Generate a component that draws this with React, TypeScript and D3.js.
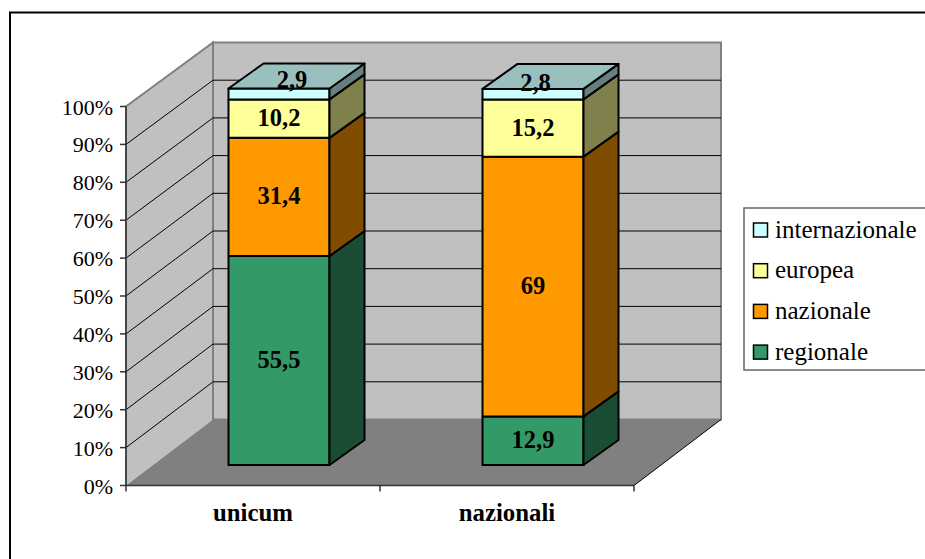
import React from "react";
import * as d3 from "d3";

// Percent shares per destination market, stacked from the bottom up
const categories = ["unicum", "nazionali"];
const seriesNames = ["regionale", "nazionale", "europea", "internazionale"];
const regionale = [55.5, 12.9];
const nazionale = [31.4, 69];
const europea = [10.2, 15.2];
const internazionale = [2.9, 2.8];
const valueLabels = [
  ["55,5", "12,9"],
  ["31,4", "69"],
  ["10,2", "15,2"],
  ["2,9", "2,8"],
];
const tickValues = [0, 10, 20, 30, 40, 50, 60, 70, 80, 90, 100];

const frontColors = ["#339966", "#FF9900", "#FFFF99", "#CCFFFF"];
const sideColors = ["#1A4D33", "#804D00", "#80804D", "#668080"];
const topColor = "#99BFBF";
const serif = "'Liberation Serif', 'Times New Roman', serif";

const rows = categories.map((c, i) => ({
  category: c,
  regionale: regionale[i],
  nazionale: nazionale[i],
  europea: europea[i],
  internazionale: internazionale[i],
}));

export default function App() {
  const left = 126;
  const right = 634;
  const wallDx = 87;
  const barDx = 35;
  const barDy = -25;
  const barOffset = 26;
  const barWidth = 101;

  const axisY = d3.scaleLinear().domain([0, 100]).range([485.5, 106.5]);
  const wallY = d3.scaleLinear().domain([0, 100]).range([419.5, 42.5]);
  const barY = d3.scaleLinear().domain([0, 100]).range([465, 88.5]);
  const x = d3.scaleBand().domain(categories).range([left, right]);

  const stacked = d3
    .stack<any>()
    .keys(seriesNames)
    .order(d3.stackOrderNone)
    .offset(d3.stackOffsetNone)(rows);

  const path = d3.line();

  // Small shifts for the labels of the thin top segment, which sit on the bar's lid
  const lidLabelShift = [
    { dx: 13, dy: -13.5 },
    { dx: 2.5, dy: -11 },
  ];

  return (
    <svg
      width={925}
      height={559}
      style={{ position: "absolute", left: 0, top: 0, background: "#fff" }}
      fontFamily={serif}
    >
      {/* outer chart frame */}
      <path d="M10 559V12.5H925" fill="none" stroke="#000" strokeWidth={2} />

      {/* side wall, back wall, floor */}
      <path
        d={path([[left, axisY(0)], [left, axisY(100)], [left + wallDx, wallY(100)], [left + wallDx, wallY(0)]])!}
        fill="#C0C0C0"
        stroke="#808080"
        strokeWidth={2}
      />
      <rect
        x={left + wallDx}
        y={wallY(100)}
        width={right - left}
        height={wallY(0) - wallY(100)}
        fill="#C0C0C0"
        stroke="#808080"
        strokeWidth={2}
      />
      <path
        d={path([[left, axisY(0)], [left + wallDx, wallY(0)], [right + wallDx, wallY(0)], [right, axisY(0)]])!}
        fill="#808080"
      />
      <path d={path([[right, axisY(0)], [right + wallDx, wallY(0)]])!} stroke="#000" fill="none" />

      {/* gridlines across both walls */}
      {tickValues.slice(1, -1).map((t) => (
        <path
          key={t}
          d={path([[left, axisY(t)], [left + wallDx, wallY(t)], [right + wallDx, wallY(t)]])!}
          fill="none"
          stroke="#000"
          strokeWidth={1}
        />
      ))}

      {/* axes */}
      <path d={`M${left} ${axisY(100)}V${axisY(0)}H${right}`} fill="none" stroke="#333" strokeWidth={1.5} />
      {tickValues.map((t) => (
        <g key={t}>
          <line x1={left - 6} x2={left} y1={axisY(t)} y2={axisY(t)} stroke="#333" strokeWidth={1.5} />
          <text x={left - 13} y={axisY(t) + 8} textAnchor="end" fontSize={22} fill="#000">
            {t}%
          </text>
        </g>
      ))}
      {[left, left + x.bandwidth(), right].map((v) => (
        <line key={v} x1={v} x2={v} y1={axisY(0)} y2={axisY(0) + 6} stroke="#333" strokeWidth={1.5} />
      ))}
      {categories.map((c) => (
        <text key={c} x={x(c)! + x.bandwidth() / 2} y={521} textAnchor="middle" fontSize={24.8} fontWeight="bold">
          {c}
        </text>
      ))}

      {/* stacked 3D bars */}
      {categories.map((c, ci) => {
        const x0 = x(c)! + x.bandwidth() / 2 + barOffset - barWidth / 2;
        const x1 = x0 + barWidth;
        const top = barY(stacked[stacked.length - 1][ci][1]);
        return (
          <g key={c} stroke="#000" strokeWidth={2} strokeLinejoin="round">
            {stacked.map((s, si) => {
              const y0 = barY(s[ci][0]);
              const y1 = barY(s[ci][1]);
              return (
                <g key={si}>
                  <rect x={x0} y={y1} width={barWidth} height={y0 - y1} fill={frontColors[si]} />
                  <path
                    d={path([[x1, y0], [x1, y1], [x1 + barDx, y1 + barDy], [x1 + barDx, y0 + barDy]])! + "Z"}
                    fill={sideColors[si]}
                  />
                </g>
              );
            })}
            <path
              d={path([[x0, top], [x0 + barDx, top + barDy], [x1 + barDx, top + barDy], [x1, top]])! + "Z"}
              fill={topColor}
            />
          </g>
        );
      })}

      {/* value labels */}
      {categories.map((c, ci) => {
        const cx = x(c)! + x.bandwidth() / 2 + barOffset;
        return stacked.map((s, si) => {
          const shift = si === 3 ? lidLabelShift[ci] : { dx: 0, dy: 0 };
          const cy = barY((s[ci][0] + s[ci][1]) / 2);
          return (
            <text
              key={c + si}
              x={cx + shift.dx}
              y={cy + shift.dy + 7.5}
              textAnchor="middle"
              fontSize={24.5}
              fontWeight="bold"
            >
              {valueLabels[si][ci]}
            </text>
          );
        });
      })}

      {/* legend */}
      <rect x={744} y={208} width={190} height={162} fill="#fff" stroke="#666" strokeWidth={1.5} />
      {[...seriesNames].reverse().map((name, i) => (
        <g key={name}>
          <rect
            x={753.5}
            y={223 + i * 40.7}
            width={14}
            height={14}
            fill={frontColors[seriesNames.indexOf(name)]}
            stroke="#000"
            strokeWidth={1.5}
          />
          <text x={775} y={237.7 + i * 40.7} fontSize={25}>
            {name}
          </text>
        </g>
      ))}
    </svg>
  );
}
